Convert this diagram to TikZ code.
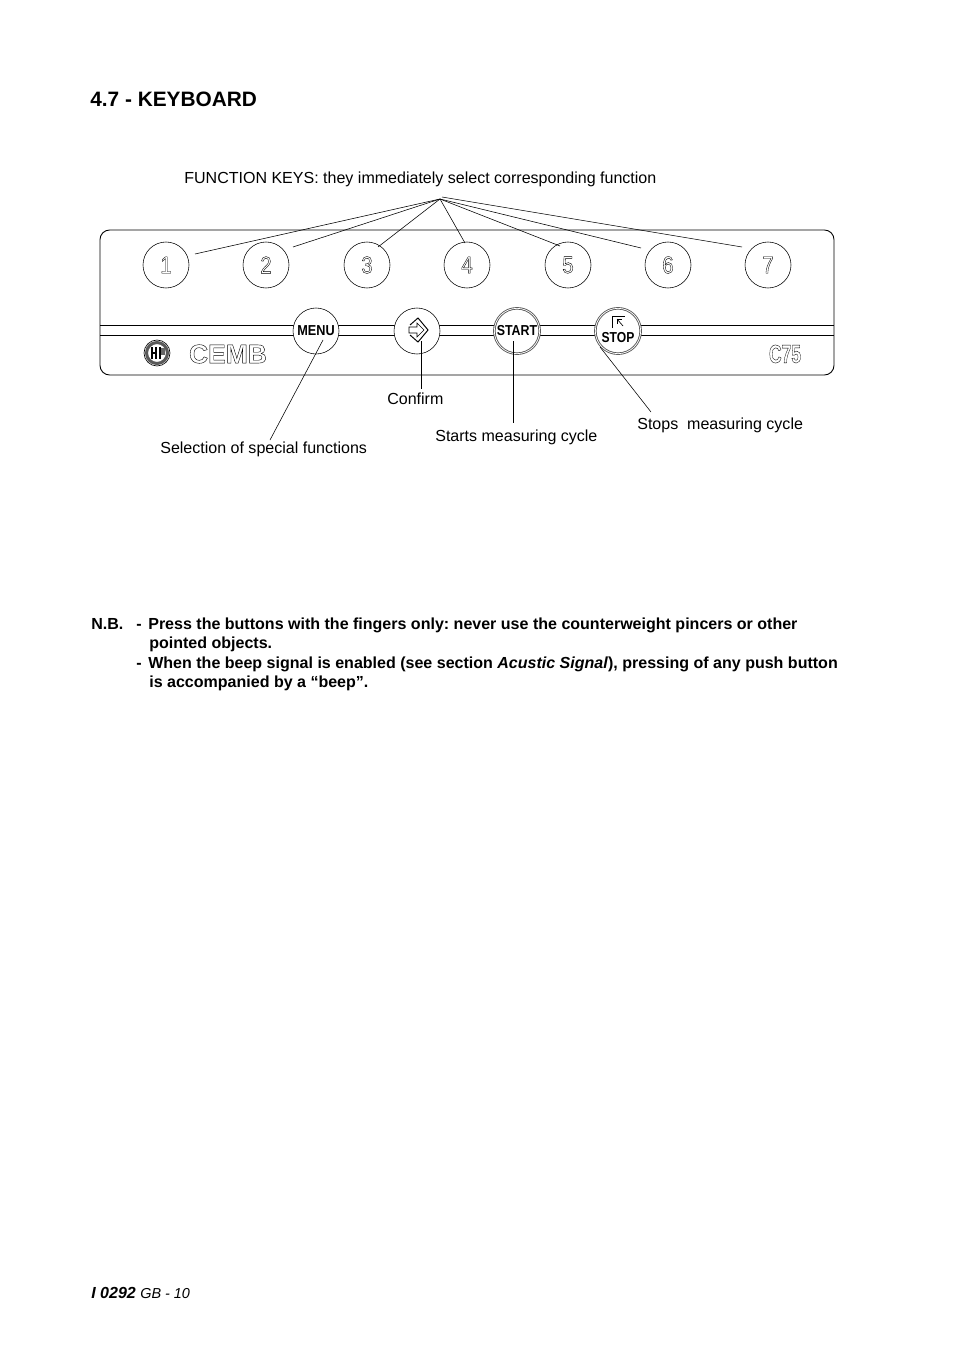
\documentclass[tikz,border=0pt]{standalone}
\usepackage{fontspec}
\setmainfont{Liberation Sans}
\usetikzlibrary{positioning}
\frenchspacing
\newcommand{\outl}[1]{\special{pdf:code 1 Tr 0.25 w}#1\special{pdf:code 0 Tr 1 w}}
\newcommand{\narrowoutl}[2]{\scalebox{#1}[1]{\outl{#2}}}
\tikzset{
  fnkey/.style={circle,draw=black,fill=white,line width=0.35pt,minimum size=28.7pt,inner sep=0pt,
    font=\fontsize{15}{15}\selectfont},
  cmdkey/.style={circle,draw=black,fill=white,line width=0.35pt,minimum size=28.7pt,inner sep=0pt,
    font=\bfseries\fontsize{9}{9}\selectfont},
  strongkey/.style={cmdkey,double=white,double distance=0.45pt,draw=black!65,line width=0.55pt,minimum size=28.3pt},
  lead/.style={line width=0.35pt,draw=black},
  band/.style={line width=0.55pt,draw=black},
  txt/.style={anchor=base west,inner sep=0pt,font=\fontsize{10}{10}\selectfont},
  boldtxt/.style={anchor=base west,inner sep=0pt,font=\bfseries\fontsize{10}{10}\selectfont}
}
\begin{document}
\begin{tikzpicture}[x=0.624pt,y=-0.624pt]
  \useasboundingbox (0,0) rectangle (954,1350);
  \fill[white] (0,0) rectangle (954,1350);

  % Title
  \node[boldtxt,font=\bfseries\fontsize{13}{13}\selectfont] (title) at (90,107) {4.7 - KEYBOARD};
  \node[txt] (fnlabel) at (184,184) {FUNCTION KEYS: they immediately select corresponding function};

  % Panel
  \draw[band,rounded corners=6pt] (100,230) rectangle (834,375);
  \draw[band] (100,325) -- (834,325);
  \draw[band] (100,335) -- (834,335);

  % Function keys
  \node[fnkey] (key1) at (166,265) {\narrowoutl{0.85}{1}};
  \node[fnkey] (key2) at (266,265) {\narrowoutl{0.85}{2}};
  \node[fnkey] (key3) at (367,265) {\narrowoutl{0.85}{3}};
  \node[fnkey] (key4) at (467,265) {\narrowoutl{0.85}{4}};
  \node[fnkey] (key5) at (568,265) {\narrowoutl{0.85}{5}};
  \node[fnkey] (key6) at (668,265) {\narrowoutl{0.85}{6}};
  \node[fnkey] (key7) at (768,265) {\narrowoutl{0.85}{7}};

  % Command keys
  \node[cmdkey] (menu) at (316,331) {\scalebox{0.88}[1]{MENU}};
  \node[cmdkey] (confirm) at (417,331) {};
  \node[strongkey] (start) at (517,331) {\scalebox{0.86}[1]{START}};
  \node[strongkey] (stop) at (618,331) {};
  \node[font=\bfseries\fontsize{9}{9}\selectfont,inner sep=0pt] (stoptext) at (618,338) {\scalebox{0.84}[1]{STOP}};

  % Confirm icon
  \draw[line width=0.6pt] (410,325) -- (418,318) -- (428,330) -- (418,342) -- (410,335);
  \draw[line width=0.35pt] (409,327) -- (417,327) -- (417,323) -- (424,330) -- (417,337) -- (417,333) -- (409,333) -- cycle;

  % Stop icon
  \draw[line width=0.6pt] (612,328) -- (612,316) -- (625,316);
  \draw[line width=0.4pt] (623,326) -- (617,319);
  \draw[line width=0.4pt] (617,324) -- (617,319) -- (622,319);

  % Logo
  \draw[draw=black!65,line width=1.9pt] (157,353) circle (10.5);
  \draw[line width=0.4pt] (157,353) circle (13);
  \draw[line width=0.7pt] (152,347) -- (152,359);
  \draw[line width=0.7pt] (156,347) -- (156,359);
  \draw[line width=0.7pt] (152,353) -- (156,353);
  \draw[line width=0.7pt] (160,347) -- (160,359);
  \fill[black!60] (161,348) rectangle (165,355);

  % Brand
  \node[font=\bfseries\fontsize{16.5}{16.5}\selectfont,inner sep=0pt] (brand) at (228,354) {\outl{CEMB}};
  \node[font=\bfseries\fontsize{16}{16}\selectfont,inner sep=0pt] (model) at (785,354) {\narrowoutl{0.68}{C75}};

  % Leaders
  \coordinate (apex) at (440,199);
  \coordinate (apextop) at (442,197);
  \coordinate (tip1) at (195,254);
  \coordinate (tip2) at (293,247);
  \coordinate (tip3) at (378,247);
  \coordinate (tip4) at (465,243);
  \coordinate (tip5) at (560,246);
  \coordinate (tip6) at (641,248);
  \coordinate (tip7) at (742,247);
  \draw[lead] (apex) -- (tip1);
  \draw[lead] (apex) -- (tip2);
  \draw[lead] (apex) -- (tip3);
  \draw[lead] (apex) -- (tip4);
  \draw[lead] (apex) -- (tip5);
  \draw[lead] (apex) -- (tip6);
  \draw[lead] (apextop) -- (tip7);

  % Key labels
  \node[txt] (confirmlabel) at (387,404) {Confirm};
  \node[txt] (startlabel) at (435,441) {Starts measuring cycle};
  \node[txt] (stoplabel) at (637,429) {Stops\ \ measuring cycle};
  \node[txt] (menulabel) at (160,453) {Selection of special functions};
  \coordinate (menuend) at (270,440);
  \coordinate (confirmend) at (421,389);
  \coordinate (startend) at (513,423);
  \coordinate (stopend) at (651,412);
  \draw[lead] (323,340) -- (menuend);
  \draw[lead,line width=0.45pt] (421,341) -- (confirmend);
  \draw[lead,line width=0.45pt] (513,341) -- (startend);
  \draw[lead] (600,347) -- (stopend);

  % Notes
  \node[boldtxt] (nb) at (91,629) {N.B.};
  \node[boldtxt] (dash1) at (136,629) {-};
  \node[boldtxt] (note1a) at (148,629) {Press the buttons with the fingers only: never use the counterweight pincers or other};
  \node[boldtxt] (note1b) at (149,648) {pointed objects.};
  \node[boldtxt] (dash2) at (136,668) {-};
  \node[boldtxt] (note2a) at (148,668) {When the beep signal is enabled (see section \textit{Acustic Signal}), pressing of any push button};
  \node[boldtxt] (note2b) at (149,687) {is accompanied by a “beep”.};

  % Footer
  \node[boldtxt] (footer) at (91,1298) {\textit{I 0292} {\mdseries\itshape\fontsize{9}{9}\selectfont GB - 10}};
\end{tikzpicture}
\end{document}
